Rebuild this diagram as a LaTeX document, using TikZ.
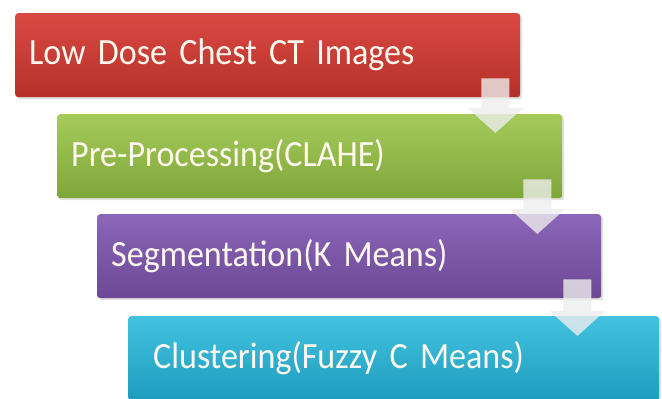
\documentclass[tikz,border=0pt]{standalone}
\usepackage{fontspec}
\setmainfont{Carlito}[FakeStretch=0.92]
\usetikzlibrary{arrows.meta,calc,shadows}
\definecolor{redtop}{HTML}{DA4A43}
\definecolor{redbot}{HTML}{B5302A}
\definecolor{greentop}{HTML}{A6CB5C}
\definecolor{greenbot}{HTML}{7FA639}
\definecolor{purpletop}{HTML}{8C66BA}
\definecolor{purplebot}{HTML}{6C4894}
\definecolor{cyantop}{HTML}{42C2DF}
\definecolor{cyanbot}{HTML}{1E9CBE}
\definecolor{textcol}{HTML}{FFF8EE}
\newcommand\stepfont{\fontsize{37}{42}\selectfont\spaceskip=6pt\relax}
\begin{document}
\begin{tikzpicture}[x=1pt,y=-1pt,
    box/.style={anchor=north west,rounded corners=3pt,minimum height=84pt,
        inner xsep=14pt,inner ysep=0pt,align=left,text=textcol,
        font=\stepfont,
        drop shadow={shadow xshift=2pt,shadow yshift=-2pt,opacity=0.25}},
    flow/.style={line width=28pt,draw=black!7,
        -{Triangle[length=25pt,width=54pt]}}]
    \useasboundingbox (0,0) rectangle (662,399);
    %% NOTE: the four steps, each one set a bit further right
    \node[box,top color=redtop,bottom color=redbot,text width=477pt] (L) at (15,13) {Low Dose Chest CT Images};
    \node[box,top color=greentop,bottom color=greenbot,text width=477pt] (P) at (57,114) {Pre-Processing(CLAHE)};
    \node[box,top color=purpletop,bottom color=purplebot,text width=476pt] (S) at (97,214) {Segmentation(K Means)};
    \node[box,top color=cyantop,bottom color=cyanbot,text width=481pt,inner xsep=25pt] (C) at (128,316) {Clustering(Fuzzy C Means)};
    %% NOTE: the arrows are see-through, so they go in one group
    \begin{scope}[transparency group,opacity=0.8]
        \draw[flow] ($(L.south east)+(-25,-19)$) -- ($(L.south east |- P.north)+(-25,19)$);
        \draw[flow] ($(P.south east)+(-25,-19)$) -- ($(P.south east |- S.north)+(-25,20)$);
        \draw[flow] ($(S.south east)+(-24,-19)$) -- ($(S.south east |- C.north)+(-24,20)$);
    \end{scope}
\end{tikzpicture}
\end{document}
